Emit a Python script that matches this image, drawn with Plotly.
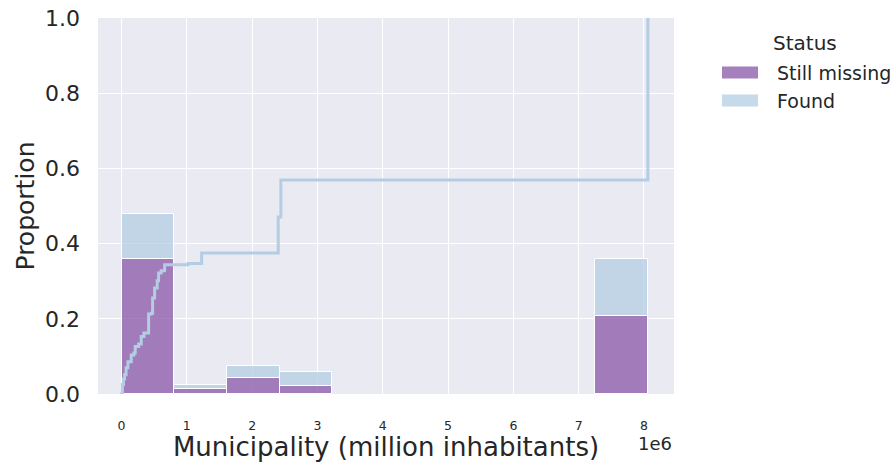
import plotly.graph_objects as go

# ---- data ----
bin_start = 0.005e6
bin_width = 0.8055e6
still_missing = [0.360, 0.013, 0.043, 0.022, 0.0, 0.0, 0.0, 0.0, 0.0, 0.207]
found = [0.119, 0.011, 0.032, 0.036, 0.0, 0.0, 0.0, 0.0, 0.0, 0.151]

# ECDF of "Found" municipalities (population in millions, cumulative proportion)
ecdf_x = [0.0, 0.006, 0.015, 0.03, 0.047, 0.07, 0.098, 0.149, 0.19, 0.21, 0.262, 0.302,
          0.343, 0.415, 0.455, 0.476, 0.507, 0.547, 0.568, 0.608, 0.66, 1.02, 1.227,
          2.40, 2.44, 8.06, 8.06]
ecdf_y = [0.0, 0.002, 0.025, 0.04, 0.051, 0.07, 0.086, 0.104, 0.109, 0.126, 0.133, 0.153,
          0.162, 0.213, 0.215, 0.255, 0.282, 0.301, 0.322, 0.328, 0.344, 0.347, 0.375,
          0.471, 0.569, 1.0, 1.0]

x_ticks = [0, 1, 2, 3, 4, 5, 6, 7, 8]
y_ticks = [0.0, 0.2, 0.4, 0.6, 0.8, 1.0]

PURPLE = "rgba(136,86,167,0.75)"
BLUE = "rgba(179,205,227,0.75)"
LINE = "#b3cde3"
TXT = "#262626"
FONT = "DejaVu Sans"

centers = [bin_start + bin_width * (i + 0.5) for i in range(len(found))]

fig = go.Figure()
mx = [c for c, v in zip(centers, still_missing) if v > 0]
my = [v for v in still_missing if v > 0]
fig.add_trace(go.Bar(x=mx, y=my, width=bin_width, name="Still missing",
                     marker=dict(color=PURPLE, line=dict(color="white", width=1)),
                     showlegend=False))
# stacked found on top of missing
fx = [c for c, v in zip(centers, found) if v > 0]
fy = [v for v in found if v > 0]
fb = [m for m, v in zip(still_missing, found) if v > 0]
fig.add_trace(go.Bar(x=fx, y=fy, base=fb, width=bin_width, name="Found",
                     marker=dict(color=BLUE, line=dict(color="white", width=1)),
                     showlegend=False))
fig.add_trace(go.Scatter(x=[v * 1e6 for v in ecdf_x], y=ecdf_y, mode="lines",
                         line=dict(color=LINE, width=3, shape="hv"),
                         showlegend=False, hoverinfo="skip"))

W, H = 895, 463
L, R, T, B = 98, 221, 18, 69
X0, X1, Y0, Y1 = L, W - R, T, H - B  # plot area in pixels
pw, ph = X1 - X0, Y1 - Y0

def px(p):
    return (p - X0) / pw

def py(p):
    return (Y1 - p) / ph

# custom legend
fig.add_annotation(x=px(805), y=py(43), xref="paper", yref="paper", text="Status",
                   showarrow=False, font=dict(size=20, color=TXT, family=FONT),
                   xanchor="center", yanchor="middle")
for lbl, col, yc in [("Still missing", PURPLE, 72.5), ("Found", BLUE, 100.5)]:
    fig.add_shape(type="rect", xref="paper", yref="paper",
                  x0=px(722), x1=px(758), y0=py(yc - 6), y1=py(yc + 6),
                  fillcolor=col, line=dict(width=0))
    fig.add_annotation(x=px(775), y=py(yc), xref="paper", yref="paper", text=lbl,
                       showarrow=False, font=dict(size=19, color=TXT, family=FONT),
                       xanchor="left", yanchor="middle")

fig.add_annotation(x=px(674), y=py(443), xref="paper", yref="paper", text="1e6",
                   showarrow=False, font=dict(size=18, color=TXT, family=FONT),
                   xanchor="right", yanchor="middle")

fig.update_layout(
    width=W, height=H,
    margin=dict(l=L, r=R, t=T, b=B, autoexpand=False),
    paper_bgcolor="white", plot_bgcolor="#eaeaf2",
    barmode="overlay", bargap=0,
    font=dict(family=FONT, color=TXT),
    xaxis=dict(range=[-0.36e6, 8.46e6], tickvals=[v * 1e6 for v in x_ticks],
               ticktext=[str(v) for v in x_ticks], showgrid=True, gridcolor="white",
               gridwidth=1.3, zeroline=False, showline=False, ticks="",
               tickfont=dict(size=12.5, color=TXT), ticklabelstandoff=22,
               ticklabeloverflow="allow",
               title=dict(text="Municipality (million inhabitants)",
                          font=dict(size=26, color=TXT), standoff=6),
               automargin=False),
    yaxis=dict(range=[0, 1.0], tickvals=y_ticks, ticktext=[f"{v:.1f}" for v in y_ticks],
               showgrid=True, gridcolor="white", gridwidth=1.3, zeroline=False,
               showline=False, ticks="", tickfont=dict(size=22, color=TXT),
               ticklabelstandoff=17, ticklabeloverflow="allow",
               title=dict(text="Proportion", font=dict(size=25, color=TXT), standoff=3),
               automargin=False),
)

fig.write_html("out.html", config={"displayModeBar": False},
               post_script="document.body.style.margin='0';document.body.style.overflow='hidden';")
